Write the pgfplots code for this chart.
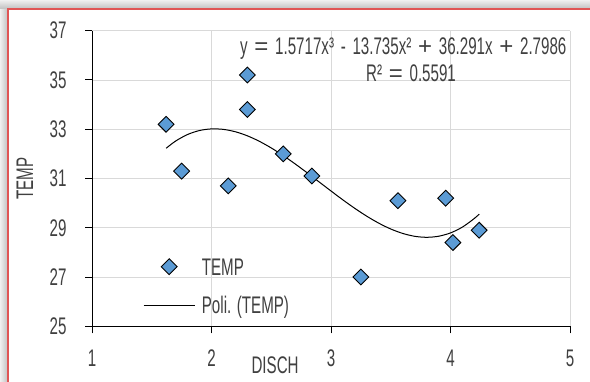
\documentclass[border=0pt]{standalone}
\usepackage{fontspec}
\setmainfont{Liberation Sans}[FakeStretch=0.63]
\newfontfamily\eqfont{Liberation Sans}[FakeStretch=0.63, WordSpace=1.6]
\newfontfamily\opfont{Liberation Sans}
\newcommand{\op}[1]{{\opfont #1}}
\usepackage{pgfplots}
\pgfplotsset{compat=1.18}
\definecolor{txt}{HTML}{404040}
\definecolor{gridc}{HTML}{D9D9D9}
\definecolor{mk}{HTML}{5B9BD5}
\definecolor{framec}{HTML}{E05555}
\newcommand{\F}{\fontsize{24bp}{28bp}\selectfont}
\begin{document}
\begin{tikzpicture}[x=1bp,y=1bp]
\useasboundingbox (0,0) rectangle (590,381);
\begin{scope}
\clip (0,0) rectangle (590,381);
\shade[left color=gray!12, right color=gray!50] (0,0) rectangle (8,381);
\shade[top color=gray!12, bottom color=gray!50] (0,372) rectangle (590,381);
\fill[white] (8,-5) rectangle (600,372);
\draw[framec, line width=1.3bp] (8,-5) -- (8,372) -- (600,372);
\end{scope}
\begin{axis}[
  at={(92bp,54.7bp)}, anchor=south west, scale only axis,
  width=478bp, height=295.6bp,
  xmin=1, xmax=5, ymin=25, ymax=37,
  xtick={1,2,3,4,5}, ytick={25,27,29,31,33,35,37},
  axis x line=bottom, axis y line=left,
  axis line style={-, black, line width=1bp},
  grid=major, major grid style={gridc, line width=0.9bp},
  tick align=outside, major tick length=7bp,
  tick style={black, line width=1bp},
  /pgf/number format/assume math mode=true,
  tick label style={font=\F, text=txt},
  xticklabel style={yshift=-13bp},
  yticklabel style={xshift=-15bp},
  label style={font=\F, text=txt},
  xlabel={DISCH},
  xlabel style={at={(axis description cs:0.383,0)}, anchor=base, yshift=-46.7bp},
  ylabel={TEMP},
  ylabel style={at={(axis description cs:-0.1234,0.5)}, rotate=0, anchor=base},
  legend style={draw=none, fill=none, at={(axis description cs:0.1067,0.1364)}, anchor=west,
    inner sep=0pt, row sep=21.5bp, column sep=6.7bp,
    nodes={inner sep=0pt, text height=17bp, text depth=0bp, font=\F, text=txt}},
  legend cell align=left,
  legend image code/.code={\draw[mark repeat=2,mark phase=2,#1] plot coordinates {(0bp,0bp) (25.5bp,0bp) (51bp,0bp)};},
]
\addplot[only marks, mark=square*, mark size=5.6bp,
  mark options={rotate=45, fill=mk, draw=black, line width=0.9bp}]
  coordinates {(1.62,33.2) (1.75,31.3) (2.14,30.7) (2.30,35.2) (2.30,33.8) (2.60,32.0)
  (2.84,31.1) (3.25,27.0) (3.56,30.1) (3.96,30.2) (4.02,28.4) (4.24,28.9)};
\addlegendentry{TEMP}
\addplot[black, line width=1bp, smooth, no marks]
  coordinates {(1.62,32.226) (1.7,32.521) (1.8,32.787) (1.9,32.948) (2.0,33.014)
  (2.1,32.994) (2.2,32.897) (2.3,32.733) (2.4,32.511) (2.5,32.240) (2.6,31.931)
  (2.7,31.592) (2.8,31.233) (2.9,30.863) (3.0,30.493) (3.1,30.130) (3.2,29.785)
  (3.3,29.467) (3.4,29.186) (3.5,28.950) (3.6,28.770) (3.7,28.654) (3.8,28.613)
  (3.9,28.656) (4.0,28.791) (4.1,29.029) (4.2,29.380) (4.24,29.554)};
\addlegendentry{Poli. (TEMP)}
\end{axis}
\node[anchor=base west, inner sep=0pt, text=txt] at (240,326.7)
  {\eqfont\fontsize{24bp}{28bp}\selectfont y \op{=} 1.5717x³ - 13.735x² \op{+} 36.291x \op{+} 2.7986};
\node[anchor=base west, inner sep=0pt, text=txt] at (366,299.3)
  {\eqfont\fontsize{24bp}{28bp}\selectfont R² \op{=} 0.5591};
\end{tikzpicture}
\end{document}
